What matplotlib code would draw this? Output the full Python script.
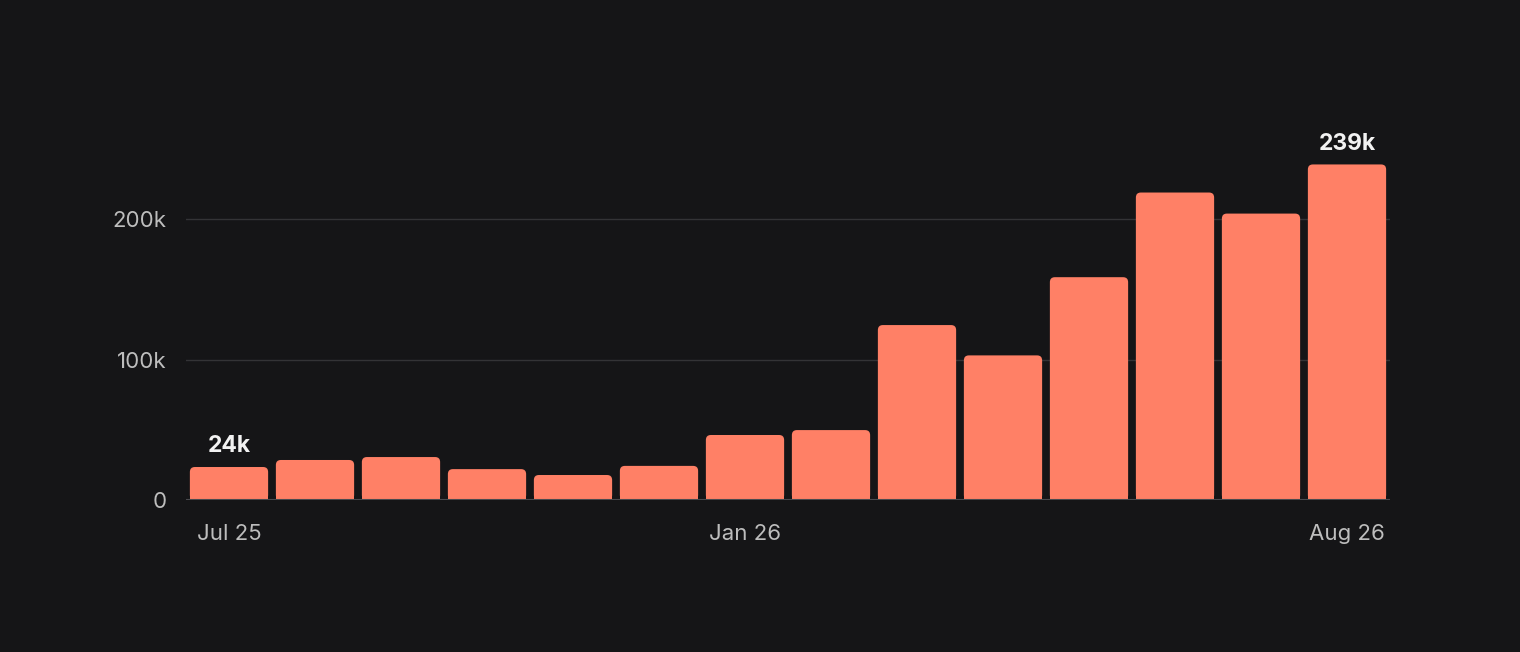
import matplotlib.pyplot as plt
from matplotlib.patches import FancyBboxPatch, Rectangle

# datos mensuales (Jul 25 .. Aug 26)
months = ['Jul 25', 'Aug 25', 'Sep 25', 'Oct 25', 'Nov 25', 'Dec 25', 'Jan 26',
          'Feb 26', 'Mar 26', 'Apr 26', 'May 26', 'Jun 26', 'Jul 26', 'Aug 26']
values = [23500, 28500, 30600, 22000, 17800, 24300, 46300,
          49800, 124600, 103000, 158700, 219000, 204000, 239000]
shown_ticks = ['Jul 25', 'Jan 26', 'Aug 26']
labelled = {0: '24k', 13: '239k'}
yticks = [0, 100000, 200000]
ytick_labels = ['0', '100k', '200k']

bg = '#151517'
bar_color = '#FF8066'
plt.rcParams['font.family'] = ['Inter', 'DejaVu Sans']

fig = plt.figure(figsize=(15.2, 6.52), dpi=100, facecolor=bg)
ax = fig.add_axes([186 / 1520, 1 - 500 / 652, 1204 / 1520, 351 / 652])
ax.set_facecolor(bg)

x = list(range(len(months)))
width = 0.91
bars = ax.bar(x, values, width=width, color=bar_color, zorder=3)

ax.set_xlim(-0.5, len(months) - 0.5)
ax.set_ylim(0, 250000)

# esquinas superiores redondeadas
ppx = 1204 / (len(months))          # pixeles por unidad x
ppy = 351 / 250000                  # pixeles por unidad y
r = 5 / ppx
for b in bars:
    bx, by = b.get_x(), b.get_y()
    bw, bh = b.get_width(), b.get_height()
    b.set_visible(False)
    rb = FancyBboxPatch((bx, by), bw, bh,
                        boxstyle=f'round,pad=0,rounding_size={r}',
                        mutation_aspect=ppx / ppy,
                        fc=bar_color, ec='none', zorder=3)
    ax.add_patch(rb)
    ax.add_patch(Rectangle((bx, by), bw, bh / 2, fc=bar_color, ec='none', zorder=3))

for i, txt in labelled.items():
    ax.annotate(txt, (x[i], values[i]), xytext=(0, 7), textcoords='offset points',
                ha='center', va='bottom', color='#F2F2F2', fontsize=16.5,
                fontweight='bold', clip_on=False)

for spine in ax.spines.values():
    spine.set_visible(False)
ax.axhline(0, color='#4A4A4E', lw=1.5, zorder=4)
for yv in yticks[1:]:
    ax.axhline(yv, color='#333336', lw=1, zorder=1)

ax.set_yticks(yticks)
ax.set_yticklabels(ytick_labels)
ax.set_xticks([months.index(m) for m in shown_ticks])
ax.set_xticklabels(shown_ticks)
ax.tick_params(axis='both', length=0, colors='#BDBDBD', labelsize=16)
ax.tick_params(axis='x', pad=17)
ax.tick_params(axis='y', pad=14)

plt.savefig('out.png', dpi=100, facecolor=bg)
